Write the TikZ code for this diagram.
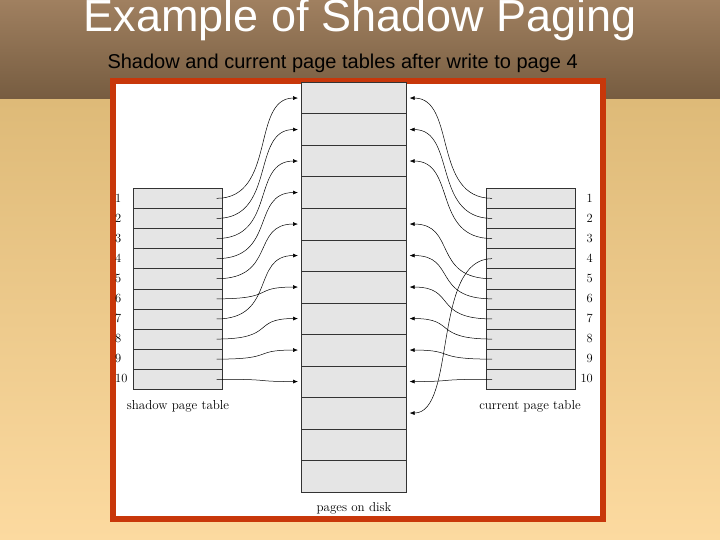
\documentclass[tikz,border=0pt]{standalone}
\usepackage{fontspec}
\setsansfont{Liberation Sans}
\usetikzlibrary{arrows.meta}
\begin{document}
\begin{tikzpicture}[x=1pt,y=-1pt,
  cell/.style={draw=black!80,fill=black!10,line width=0.6pt},
  lnk/.style={line width=0.5pt,-{Latex[length=5pt,width=4pt]}},
  num/.style={font=\rmfamily\fontsize{12.5}{14}\selectfont,inner sep=1pt},
  captext/.style={font=\rmfamily\fontsize{13}{15}\selectfont}]
\useasboundingbox (0,0) rectangle (720,540);
\shade[top color={rgb,255:red,160;green,128;blue,96},bottom color={rgb,255:red,118;green,92;blue,64}] (0,0) rectangle (720,100);
\shade[top color={rgb,255:red,222;green,186;blue,120},bottom color={rgb,255:red,252;green,218;blue,160}] (0,100) rectangle (720,540);
\node[font=\sffamily\fontsize{45}{48}\selectfont,text=white] (title) at (360,20) {Example of Shadow Paging};
\node[font=\sffamily\fontsize{20}{22}\selectfont,anchor=west] (sub) at (104,63) {Shadow and current page tables after write to page 4};
\draw[line width=6pt,draw={rgb,255:red,200;green,55;blue,10},fill=white] (113,81) rectangle (603,519);
% disk
\foreach \i in {0,...,12}{
  \node[cell,minimum width=105,minimum height=31.5,inner sep=0,anchor=north west] (d\i) at (301,{82+31.5*\i}) {};
}
\node[captext] (dl) at (354,508) {pages on disk};
% tables
\foreach \i in {1,...,10}{
  \node[cell,minimum width=89,minimum height=20.1,inner sep=0,anchor=north west] (s\i) at (133,{188+20.1*(\i-1)}) {};
  \node[cell,minimum width=89,minimum height=20.1,inner sep=0,anchor=north west] (c\i) at (486,{188+20.1*(\i-1)}) {};
  \node[num,anchor=west] (sn\i) at (114,{198+20.1*(\i-1)}) {\i};
  \node[num,anchor=east] (cn\i) at (594,{198+20.1*(\i-1)}) {\i};
}
\node[captext] (sl) at (178,406) {shadow page table};
\node[captext] (cl) at (530,406) {current page table};
% shadow links
\foreach \s/\d in {1/0,2/1,3/2,4/3,5/4,7/5,6/6,8/7,9/8,10/9}{
  \draw[lnk] ([xshift=-6pt]s\s.east) .. controls +(60,0) and ([xshift=-50pt]d\d.west) .. ([xshift=-3pt]d\d.west);
}
% current links
\foreach \s/\d in {1/0,2/1,3/2,5/4,6/5,7/6,8/7,9/8,10/9,4/10}{
  \draw[lnk] ([xshift=6pt]c\s.west) .. controls +(-60,0) and ([xshift=50pt]d\d.east) .. ([xshift=3pt]d\d.east);
}
\end{tikzpicture}
\end{document}
